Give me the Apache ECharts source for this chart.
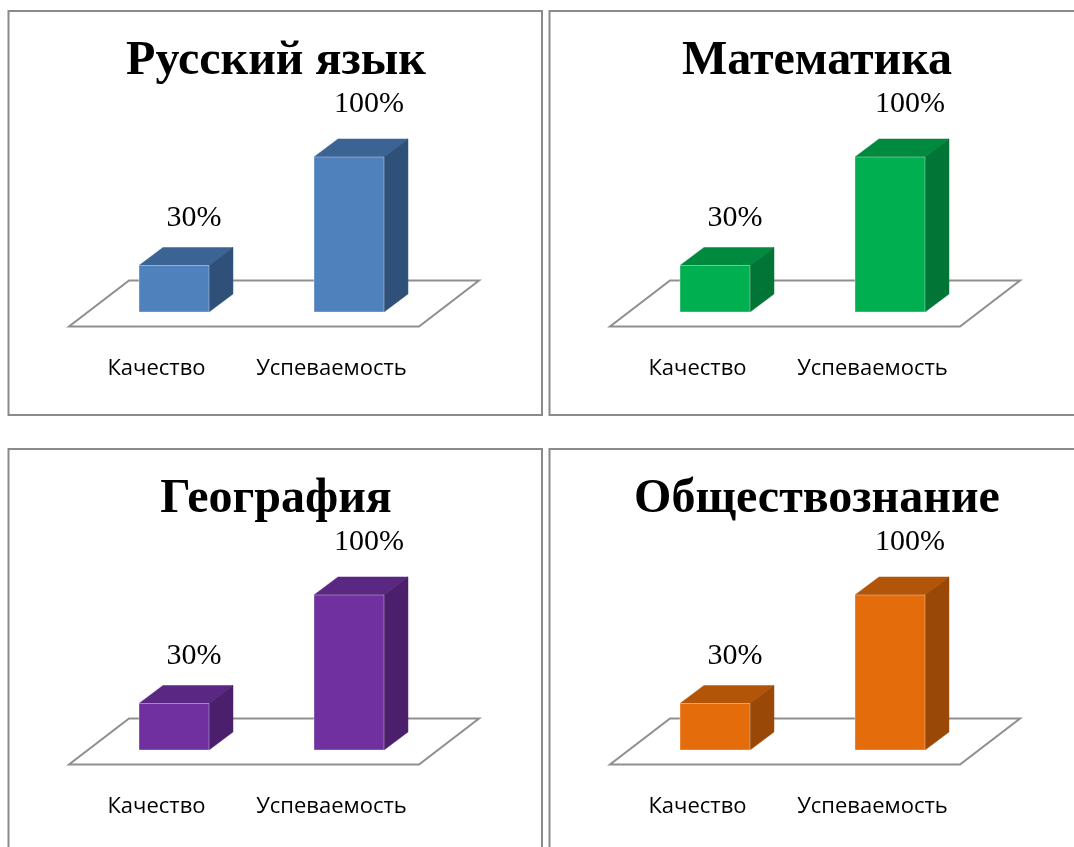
<!DOCTYPE html>
<html>
<head>
<meta charset="utf-8">
<script src="https://cdn.jsdelivr.net/npm/echarts@6/dist/echarts.min.js"></script>
<style>
html,body{margin:0;padding:0;background:#fff;}
#chart{width:1074px;height:847px;}
</style>
</head>
<body>
<div id="chart"></div>
<script>
// ---- data ----
const subjects = ['Русский язык', 'Математика', 'География', 'Обществознание'];
const categories = ['Качество', 'Успеваемость'];
const qualityValues = [30, 30, 30, 30];
const progressValues = [100, 100, 100, 100];

// ---- styles ----
const palettes = [
  { front: '#4F81BD', top: '#3B6494', side: '#2F5079' },
  { front: '#00B050', top: '#008A3F', side: '#007535' },
  { front: '#7030A0', top: '#5A2782', side: '#4B1F6B' },
  { front: '#E46C0A', top: '#B35508', side: '#9A4807' }
];
const panelOffsets = [[0, 0], [541, 0], [0, 438], [541, 438]];

const chart = echarts.init(document.getElementById('chart'), null, { renderer: 'canvas' });

const grids = [], xAxes = [], yAxes = [], series = [], titles = [], graphics = [];

subjects.forEach((name, p) => {
  const [ox, oy] = panelOffsets[p];
  const pal = palettes[p];
  graphics.push({
    type: 'rect', z: -10,
    shape: { x: 8.5 + ox, y: 11 + oy, width: 533.5, height: 404 },
    style: { fill: 'none', stroke: '#8a8a8a', lineWidth: 2 }
  });
  titles.push({
    text: name, left: 276 + ox, top: 38 + oy, textAlign: 'center', padding: 0,
    textStyle: { fontFamily: '"Liberation Serif", "Times New Roman", serif', fontWeight: 'bold', fontSize: 48, color: '#000' }
  });
  grids.push({ left: 86.5 + ox, top: 157 + oy, width: 350, height: 155, containLabel: false });
  xAxes.push({ type: 'category', gridIndex: p, data: categories, show: false, boundaryGap: true });
  yAxes.push({ type: 'value', gridIndex: p, min: 0, max: 100, show: false });

  // floor
  series.push({
    type: 'custom', xAxisIndex: p, yAxisIndex: p, clip: false, z: 1, silent: true,
    data: [[0, 0]],
    renderItem: (params, api) => {
      const b0 = api.coord([0, 0]);
      const b1 = api.coord([1, 0]);
      const B = api.size([1, 0])[0];
      const fy = b0[1] + 14.5;
      const lx = b0[0] - B / 2 - 0.1 * B;
      const rx = b1[0] + B / 2 - 0.1 * B;
      const ddx = 0.343 * B, ddy = -0.263 * B;
      return {
        type: 'polygon',
        shape: { points: [[lx, fy], [rx, fy], [rx + ddx, fy + ddy], [lx + ddx, fy + ddy]] },
        style: { fill: '#fff', stroke: '#8f8f8f', lineWidth: 2 }
      };
    }
  });

  const vals = [qualityValues[p], progressValues[p]];
  series.push({
    type: 'custom', xAxisIndex: p, yAxisIndex: p, clip: false, z: 2,
    data: categories.map((c, i) => [i, vals[i]]),
    encode: { x: 0, y: 1 },
    renderItem: (params, api) => {
      const idx = api.value(0), val = api.value(1);
      const base = api.coord([idx, 0]);
      const top = api.coord([idx, val]);
      const B = api.size([1, 0])[0];
      const w = 0.4 * B;
      const x0 = base[0] - w / 2, x1 = x0 + w;
      const by = base[1], ty = top[1];
      const dx = 0.137 * B, dy = -0.103 * B;
      const h = by - ty;
      return {
        type: 'group',
        children: [
          { type: 'polygon', shape: { points: [[x0, ty], [x0 + dx, ty + dy], [x1 + dx, ty + dy], [x1, ty]] },
            style: { fill: pal.top, stroke: pal.top, lineWidth: 0.5 } },
          { type: 'polygon', shape: { points: [[x1, ty], [x1 + dx, ty + dy], [x1 + dx, by + dy], [x1, by]] },
            style: { fill: pal.side, stroke: pal.side, lineWidth: 0.5 } },
          { type: 'rect', shape: { x: x0, y: ty, width: w, height: h },
            style: { fill: pal.front, stroke: 'rgba(255,255,255,0.35)', lineWidth: 1 } },
          { type: 'text', style: { text: val + '%', x: base[0] + 20, y: ty - 44.5 - 0.055 * h,
            fontFamily: '"Liberation Serif", "Times New Roman", serif', fontSize: 30, fill: '#000',
            align: 'center', verticalAlign: 'middle' } },
          { type: 'text', style: { text: categories[idx], x: base[0] - 0.1 * B, y: by + 57,
            fontFamily: '"Open Sans", sans-serif', fontSize: 22, fill: '#000',
            align: 'center', verticalAlign: 'middle' } }
        ]
      };
    }
  });
});

chart.setOption({
  animation: false,
  backgroundColor: '#fff',
  title: titles,
  grid: grids,
  xAxis: xAxes,
  yAxis: yAxes,
  graphic: graphics,
  series: series
});
</script>
</body>
</html>
